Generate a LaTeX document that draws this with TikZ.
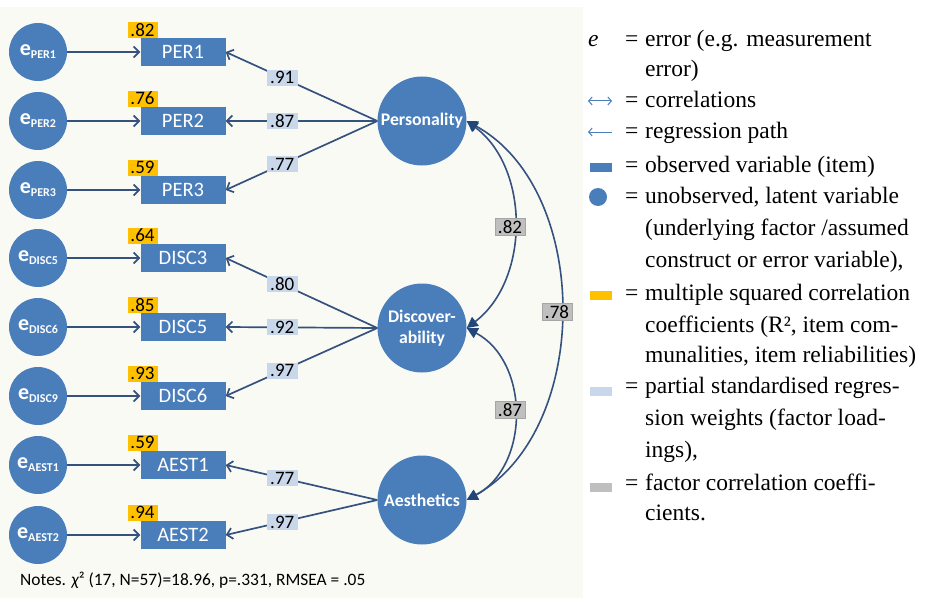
\documentclass[tikz,border=0pt]{standalone}
\usepackage{fontspec}
\setmainfont{Liberation Serif}
\setsansfont{Carlito}
\usetikzlibrary{arrows.meta}
\definecolor{nodeblue}{HTML}{4A7EBB}
\definecolor{linecol}{HTML}{35527F}
\definecolor{headcol}{HTML}{22457A}
\definecolor{ryellow}{HTML}{FFC000}
\definecolor{lblue}{HTML}{C9D7EB}
\definecolor{lgray}{HTML}{BFBFBF}
\definecolor{panel}{HTML}{FAFAF5}
\tikzset{
  errc/.style={circle, fill=nodeblue, minimum size=58pt, inner sep=0pt, text=white, font=\sffamily\bfseries},
  obs/.style={rectangle, fill=nodeblue, minimum width=85pt, minimum height=28pt, inner sep=0pt, text=white, font=\sffamily\fontsize{20.5}{22}\selectfont},
  fac/.style={circle, fill=nodeblue, minimum size=89pt, inner sep=0pt, text=white, align=center, font=\sffamily\bfseries\fontsize{17.7}{21}\selectfont},
  rsq/.style={rectangle, fill=ryellow, minimum width=30pt, minimum height=16pt, inner sep=0pt, font=\sffamily\fontsize{19}{17}\selectfont},
  ld/.style={rectangle, fill=lblue, minimum width=31pt, minimum height=16pt, inner sep=0pt, font=\sffamily\fontsize{19}{17}\selectfont},
  fc/.style={rectangle, fill=lgray, draw=gray!70, line width=0.4pt, minimum width=30pt, minimum height=17pt, inner sep=0pt, font=\sffamily\fontsize{19}{17}\selectfont},
  errarrow/.style={draw=linecol, line width=1.7pt, -{Straight Barb[length=5.5pt,width=11pt,line width=1.7pt]}},
  loadarrow/.style={draw=linecol, line width=1.7pt, -{Straight Barb[length=5.5pt,width=11pt,line width=1.7pt]}},
  corr/.style={draw=linecol, line width=1.6pt, {Triangle[length=11pt,width=11pt,fill=headcol,color=headcol]}-{Triangle[length=11pt,width=11pt,fill=headcol,color=headcol]}},
  legtxt/.style={anchor=base west, inner sep=0pt, font=\fontsize{23.5}{25}\selectfont},
  legarrow/.style={draw=nodeblue, line width=1pt},
}
\newcommand{\errlab}[1]{{\fontsize{22}{22}\selectfont e}{\fontsize{12}{12}\selectfont\raisebox{-3pt}{#1}}}
\begin{document}
\begin{tikzpicture}[x=1pt,y=-1pt]
\useasboundingbox (0,0) rectangle (928,599);
\fill[white] (0,0) rectangle (928,599);
\fill[panel] (0,7) rectangle (583,598);

% error circles
\node[errc] (e1) at (38,52) {\errlab{PER1}};
\node[errc] (e2) at (38,121) {\errlab{PER2}};
\node[errc] (e3) at (38,190) {\errlab{PER3}};
\node[errc] (e4) at (38,258) {\errlab{DISC5}};
\node[errc] (e5) at (38,327) {\errlab{DISC6}};
\node[errc] (e6) at (38,396) {\errlab{DISC9}};
\node[errc] (e7) at (38,465) {\errlab{AEST1}};
\node[errc] (e8) at (38,535) {\errlab{AEST2}};

% observed variables
\node[obs] (o1) at (183,52) {PER1};
\node[obs] (o2) at (183,121) {PER2};
\node[obs] (o3) at (183,190) {PER3};
\node[obs] (o4) at (183,258) {DISC3};
\node[obs] (o5) at (183,327) {DISC5};
\node[obs] (o6) at (183,396) {DISC6};
\node[obs] (o7) at (183,465) {AEST1};
\node[obs] (o8) at (183,535) {AEST2};

% R^2 labels
\node[rsq, anchor=south west] (r1) at ([xshift=-13pt]o1.north west) {.82};
\node[rsq, anchor=south west] (r2) at ([xshift=-13pt]o2.north west) {.76};
\node[rsq, anchor=south west] (r3) at ([xshift=-13pt]o3.north west) {.59};
\node[rsq, anchor=south west] (r4) at ([xshift=-13pt]o4.north west) {.64};
\node[rsq, anchor=south west] (r5) at ([xshift=-13pt]o5.north west) {.85};
\node[rsq, anchor=south west] (r6) at ([xshift=-13pt]o6.north west) {.93};
\node[rsq, anchor=south west] (r7) at ([xshift=-13pt]o7.north west) {.59};
\node[rsq, anchor=south west] (r8) at ([xshift=-13pt]o8.north west) {.94};

% factors
\node[fac] (pers) at (422,121) {Personality};
\node[fac] (disc) at (422,328) {Discover-\\ability};
\node[fac] (aest) at (422,500) {Aesthetics};

% error arrows
\foreach \i in {1,...,8} {\draw[errarrow] (e\i.east) -- (o\i.west);}

% loadings
\draw[loadarrow] (pers.west) -- node[ld, pos=0.627] (l1) {.91} (o1.east);
\draw[loadarrow] (pers.west) -- node[ld, pos=0.627] (l2) {.87} (o2.east);
\draw[loadarrow] (pers.west) -- node[ld, pos=0.627] (l3) {.77} (o3.east);
\draw[loadarrow] (disc.west) -- node[ld, pos=0.627] (l4) {.80} (o4.east);
\draw[loadarrow] (disc.west) -- node[ld, pos=0.627] (l5) {.92} (o5.east);
\draw[loadarrow] (disc.west) -- node[ld, pos=0.627] (l6) {.97} (o6.east);
\draw[loadarrow] (aest.west) -- node[ld, pos=0.627] (l7) {.77} (o7.east);
\draw[loadarrow] (aest.west) -- node[ld, pos=0.627] (l8) {.97} (o8.east);

% factor correlations
\draw[corr] (pers.east) .. controls (530,168) and (530,280) .. (disc.east);
\draw[corr] (disc.east) .. controls (530,362) and (530,466) .. (aest.east);
\draw[corr] (pers.east) .. controls (592,190) and (592,430) .. (aest.east);
\node[fc] (c1) at (510,227) {.82};
\node[fc] (c2) at (510,410) {.87};
\node[fc] (c3) at (557,312) {.78};

% notes
\node[anchor=base west, inner sep=0pt, font=\sffamily\fontsize{17.4}{19}\selectfont] (notes) at (20,585) {Notes. {\itshape χ}² (17, N=57)=18.96, p=.331, RMSEA = .05};

% legend symbols
\node[legtxt, font=\itshape\fontsize{23.5}{25}\selectfont] (le) at (588,47) {e};
\coordinate (a1l) at (588,101); \coordinate (a1r) at (612,101);
\draw[legarrow, {Straight Barb[length=3.5pt,width=8pt]}-{Straight Barb[length=3.5pt,width=8pt]}] (a1l) -- (a1r);
\coordinate (a2l) at (588,132); \coordinate (a2r) at (612,132);
\draw[legarrow, {Straight Barb[length=3.5pt,width=8pt]}-] (a2l) -- (a2r);
\node[rectangle, fill=nodeblue, minimum width=22pt, minimum height=9pt, inner sep=0pt] (sym1) at (601,167.5) {};
\node[circle, fill=nodeblue, minimum size=18pt, inner sep=0pt] (sym2) at (598,197) {};
\node[rectangle, fill=ryellow, minimum width=22pt, minimum height=9pt, inner sep=0pt] (sym3) at (601,295.5) {};
\node[rectangle, fill=lblue, minimum width=22pt, minimum height=9pt, inner sep=0pt] (sym4) at (601,391.5) {};
\node[rectangle, fill=lgray, minimum width=22pt, minimum height=9pt, inner sep=0pt] (sym5) at (601,487.5) {};

% legend equals signs
\foreach \y [count=\k] in {47,108,139,172,203,300,393,490} {\node[legtxt] (eq\k) at (625,\y) {=};}

% legend text
\node[legtxt] (t1) at (645,47) {error (e.g. measurement};
\node[legtxt] (t2) at (645,77) {error)};
\node[legtxt] (t3) at (645,108) {correlations};
\node[legtxt] (t4) at (645,139) {regression path};
\node[legtxt] (t5) at (645,172) {observed variable (item)};
\node[legtxt] (t6) at (645,203) {unobserved, latent variable};
\node[legtxt] (t7) at (645,235) {(underlying factor /assumed};
\node[legtxt] (t8) at (645,267) {construct or error variable),};
\node[legtxt] (t9) at (645,300) {multiple squared correlation};
\node[legtxt] (t10) at (645,332) {coefficients (R², item com-};
\node[legtxt] (t11) at (645,362) {munalities, item reliabilities)};
\node[legtxt] (t12) at (645,393) {partial standardised regres-};
\node[legtxt] (t13) at (645,425) {sion weights (factor load-};
\node[legtxt] (t14) at (645,457) {ings),};
\node[legtxt] (t15) at (645,490) {factor correlation coeffi-};
\node[legtxt] (t16) at (645,520) {cients.};
\end{tikzpicture}
\end{document}
